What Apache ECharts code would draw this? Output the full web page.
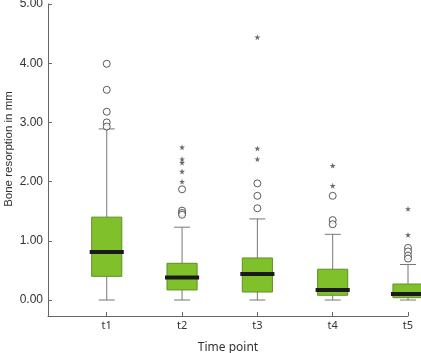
<!DOCTYPE html>
<html>
<head>
<meta charset="utf-8">
<script src="https://cdn.jsdelivr.net/npm/echarts@6/dist/echarts.min.js"></script>
<style>
  html, body { margin: 0; padding: 0; background: #fff; }
  #chart { width: 421px; height: 353px; }
</style>
</head>
<body>
<div id="chart"></div>
<script>
// box plot data (mm)
const categories = ['t1', 't2', 't3', 't4', 't5']
const boxMin = [0, 0, 0, 0, 0]
const boxQ1 = [0.40, 0.17, 0.135, 0.08, 0.04]
const boxMedian = [0.81, 0.38, 0.44, 0.17, 0.10]
const boxQ3 = [1.40, 0.62, 0.71, 0.52, 0.27]
const boxMax = [2.89, 1.23, 1.37, 1.11, 0.60]
// outliers: circles and extreme values (stars)
const circleOutliers = [
  [3.99, 3.55, 3.18, 3.00, 2.93],
  [1.87, 1.51, 1.47, 1.44],
  [1.97, 1.76, 1.55],
  [1.76, 1.35, 1.28],
  [0.88, 0.82, 0.75, 0.70]
]
const starOutliers = [
  [],
  [2.58, 2.38, 2.32, 2.17, 2.00],
  [4.44, 2.56, 2.38],
  [2.27, 1.93],
  [1.54, 1.10]
]
const yTicks = [0, 1, 2, 3, 4, 5]
const xTicks = [1, 2, 3, 4, 5]

const boxFill = '#80c12b'
const boxEdge = '#5f8f22'
const axisColor = '#666'
const starPath = 'path://M50,0 L61,35 L98,35 L68,57 L79,91 L50,70 L21,91 L32,57 L2,35 L39,35 Z'

const boxData = categories.map((c, i) => [i + 1, boxMin[i], boxQ1[i], boxMedian[i], boxQ3[i], boxMax[i]])
const circleData = []
const starData = []
categories.forEach((c, i) => {
  circleOutliers[i].forEach(v => circleData.push([i + 1, v]))
  starOutliers[i].forEach(v => starData.push([i + 1, v]))
})

const chart = echarts.init(document.getElementById('chart'))

function renderBox(params, api) {
  const x = api.value(0)
  const pMin = api.coord([x, api.value(1)])
  const pQ1 = api.coord([x, api.value(2)])
  const pMed = api.coord([x, api.value(3)])
  const pQ3 = api.coord([x, api.value(4)])
  const pMax = api.coord([x, api.value(5)])
  const w = api.size([0.4, 0])[0]
  const cap = 16
  const cx = pMin[0]
  const lineStyle = { stroke: '#777', lineWidth: 1 }
  return {
    type: 'group',
    children: [
      { type: 'line', shape: { x1: cx, y1: pQ3[1], x2: cx, y2: pMax[1] }, style: lineStyle },
      { type: 'line', shape: { x1: cx, y1: pQ1[1], x2: cx, y2: pMin[1] }, style: lineStyle },
      { type: 'line', shape: { x1: cx - cap / 2, y1: pMax[1], x2: cx + cap / 2, y2: pMax[1] }, style: lineStyle },
      { type: 'line', shape: { x1: cx - cap / 2, y1: pMin[1], x2: cx + cap / 2, y2: pMin[1] }, style: lineStyle },
      {
        type: 'rect',
        shape: { x: cx - w / 2, y: pQ3[1], width: w, height: pQ1[1] - pQ3[1] },
        style: { fill: boxFill, stroke: boxEdge, lineWidth: 1 }
      },
      {
        type: 'line',
        shape: { x1: cx - w / 2 - 2, y1: pMed[1], x2: cx + w / 2 + 2, y2: pMed[1] },
        style: { stroke: '#1a1a1a', lineWidth: 4 }
      }
    ]
  }
}

const option = {
  animation: false,
  backgroundColor: '#fff',
  grid: { left: 48, right: 13, top: 4, bottom: 37, outerBoundsMode: 'none' },
  xAxis: {
    type: 'value',
    min: 0.22,
    max: 5,
    name: 'Time point',
    nameLocation: 'middle',
    nameGap: 26,
    nameTextStyle: { fontFamily: 'Noto Sans', fontSize: 12, color: '#333' },
    splitLine: { show: false },
    axisLine: { show: true, onZero: false, lineStyle: { color: axisColor } },
    axisTick: { show: true, inside: true, length: 4, customValues: xTicks, lineStyle: { color: axisColor } },
    axisLabel: {
      customValues: xTicks,
      formatter: v => categories[v - 1],
      fontFamily: 'Noto Sans',
      fontSize: 11,
      color: '#333',
      margin: 4
    }
  },
  yAxis: {
    type: 'value',
    min: -0.27,
    max: 5,
    splitLine: { show: false },
    axisLine: { show: true, onZero: false, lineStyle: { color: axisColor } },
    axisTick: { show: true, inside: true, length: 4, customValues: yTicks, lineStyle: { color: axisColor } },
    axisLabel: {
      customValues: yTicks,
      formatter: v => v.toFixed(2),
      fontFamily: 'Liberation Sans',
      fontSize: 12,
      color: '#333',
      margin: 5
    }
  },
  graphic: [
    {
      type: 'text',
      x: 9,
      y: 149,
      rotation: Math.PI / 2,
      style: {
        text: 'Bone resorption in mm',
        fontFamily: 'Liberation Sans',
        fontSize: 11.5,
        fill: '#333',
        align: 'center',
        verticalAlign: 'middle'
      }
    }
  ],
  series: [
    {
      type: 'custom',
      renderItem: renderBox,
      data: boxData,
      clip: false,
      encode: { x: 0, y: [1, 2, 3, 4, 5] }
    },
    {
      type: 'scatter',
      data: circleData,
      symbol: 'circle',
      symbolSize: 7,
      clip: false,
      itemStyle: { color: '#fff', borderColor: '#333', borderWidth: 1 }
    },
    {
      type: 'scatter',
      data: starData,
      symbol: starPath,
      symbolSize: 6,
      clip: false,
      itemStyle: { color: '#444' }
    }
  ]
}
chart.setOption(option)
</script>
</body>
</html>
